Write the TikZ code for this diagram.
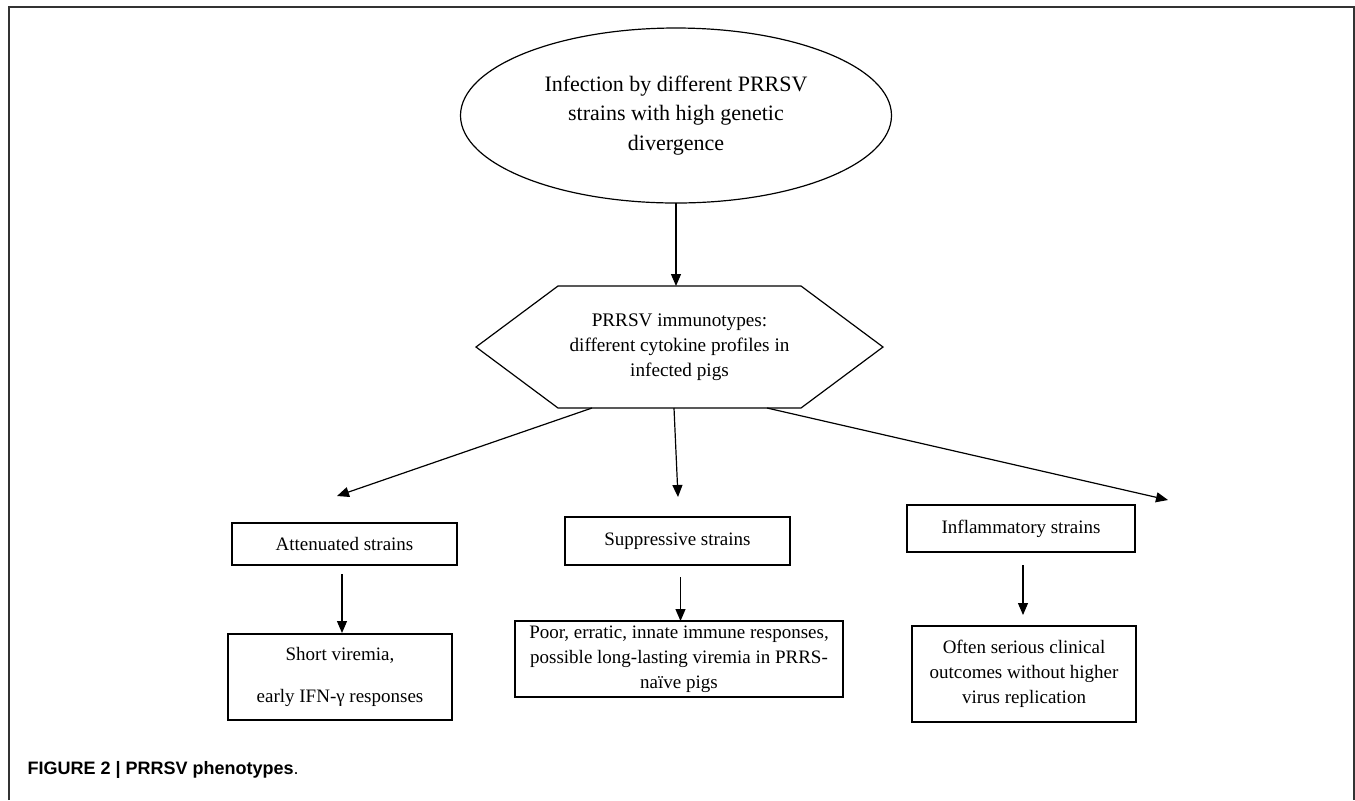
\documentclass[tikz,border=0pt]{standalone}
\usepackage{fontspec}
\setmainfont{Liberation Serif}
\newfontfamily\capfont{Liberation Sans}
\usetikzlibrary{shapes.geometric,arrows.meta}

\begin{document}
\begin{tikzpicture}[x=0.5pt,y=-0.5pt,line width=0.6pt,
  arr/.style={-{Triangle[width=5pt,length=6pt]}},
  box/.style={draw,rectangle,inner sep=0pt,outer sep=0pt,align=center,font=\fontsize{9.5}{12.5}\selectfont}]
\useasboundingbox (0,0) rectangle (1355,800);
\draw[black!80] (9,800) -- (9,7) -- (1354,7) -- (1354,800);

\node[draw,ellipse,minimum width=215.5pt,minimum height=87.5pt,inner sep=0pt,outer sep=0pt,align=center,font=\fontsize{11}{14.75}\selectfont] (infect) at (676,115.5) {Infection by different PRRSV\\strains with high genetic\\divergence};

\node[align=center,minimum width=121.5pt,minimum height=61pt,inner sep=0pt,outer sep=0pt,font=\fontsize{9.6}{12.5}\selectfont] (immuno) at (679.5,347) {PRRSV immunotypes:\\different cytokine profiles in\\infected pigs};
\draw (immuno.north west) -- (immuno.north east) -- ++(82,61) -- (immuno.south east) -- (immuno.south west) -- ++(-82,-61) -- cycle;

\draw[arr] (infect.south) -- (infect.south |- immuno.north);

\node[box,minimum width=112.5pt,minimum height=21pt] (att) at (344.5,544) {Attenuated strains};
\node[box,minimum width=112.5pt,minimum height=24pt] (sup) at (677.5,541) {Suppressive strains};
\node[box,minimum width=114pt,minimum height=23.5pt] (inf) at (1021,528.5) {Inflammatory strains};

\node[box,minimum width=112pt,minimum height=43pt,font=\fontsize{9.5}{21}\selectfont] (attout) at (340,677) {Short viremia,\\early IFN-γ responses};
\node[box,minimum width=164pt,minimum height=38pt] (supout) at (679,659) {Poor, erratic, innate immune responses,\\possible long-lasting viremia in PRRS-\\naïve pigs};
\node[box,minimum width=112pt,minimum height=48pt] (infout) at (1024,674) {Often serious clinical\\outcomes without higher\\virus replication};

\coordinate (atttip) at (337,496);
\coordinate (suptip) at (678,497);
\coordinate (inftip) at (1168,500);
\draw[arr] ([xshift=-43.75pt]immuno.south) -- (atttip);
\draw[arr] ([xshift=-2.75pt]immuno.south) -- (suptip);
\draw[arr] ([xshift=43.75pt]immuno.south) -- (inftip);

\draw[arr,shorten <=4.5pt,shorten >=0.5pt] ([xshift=-1.25pt]att.south) -- ([xshift=-1.25pt]att.south |- attout.north);
\draw[arr,shorten <=6pt] ([xshift=1.5pt]sup.south) -- ([xshift=1.5pt]sup.south |- supout.north);
\draw[arr,shorten <=6.5pt,shorten >=5.5pt] ([xshift=1pt]inf.south) -- ([xshift=1pt]inf.south |- infout.north);

\node[anchor=west,inner sep=0pt,font=\capfont\fontsize{9}{11}\selectfont] (caption) at (27,770) {\textbf{FIGURE 2 | PRRSV phenotypes}.};
\end{tikzpicture}
\end{document}
